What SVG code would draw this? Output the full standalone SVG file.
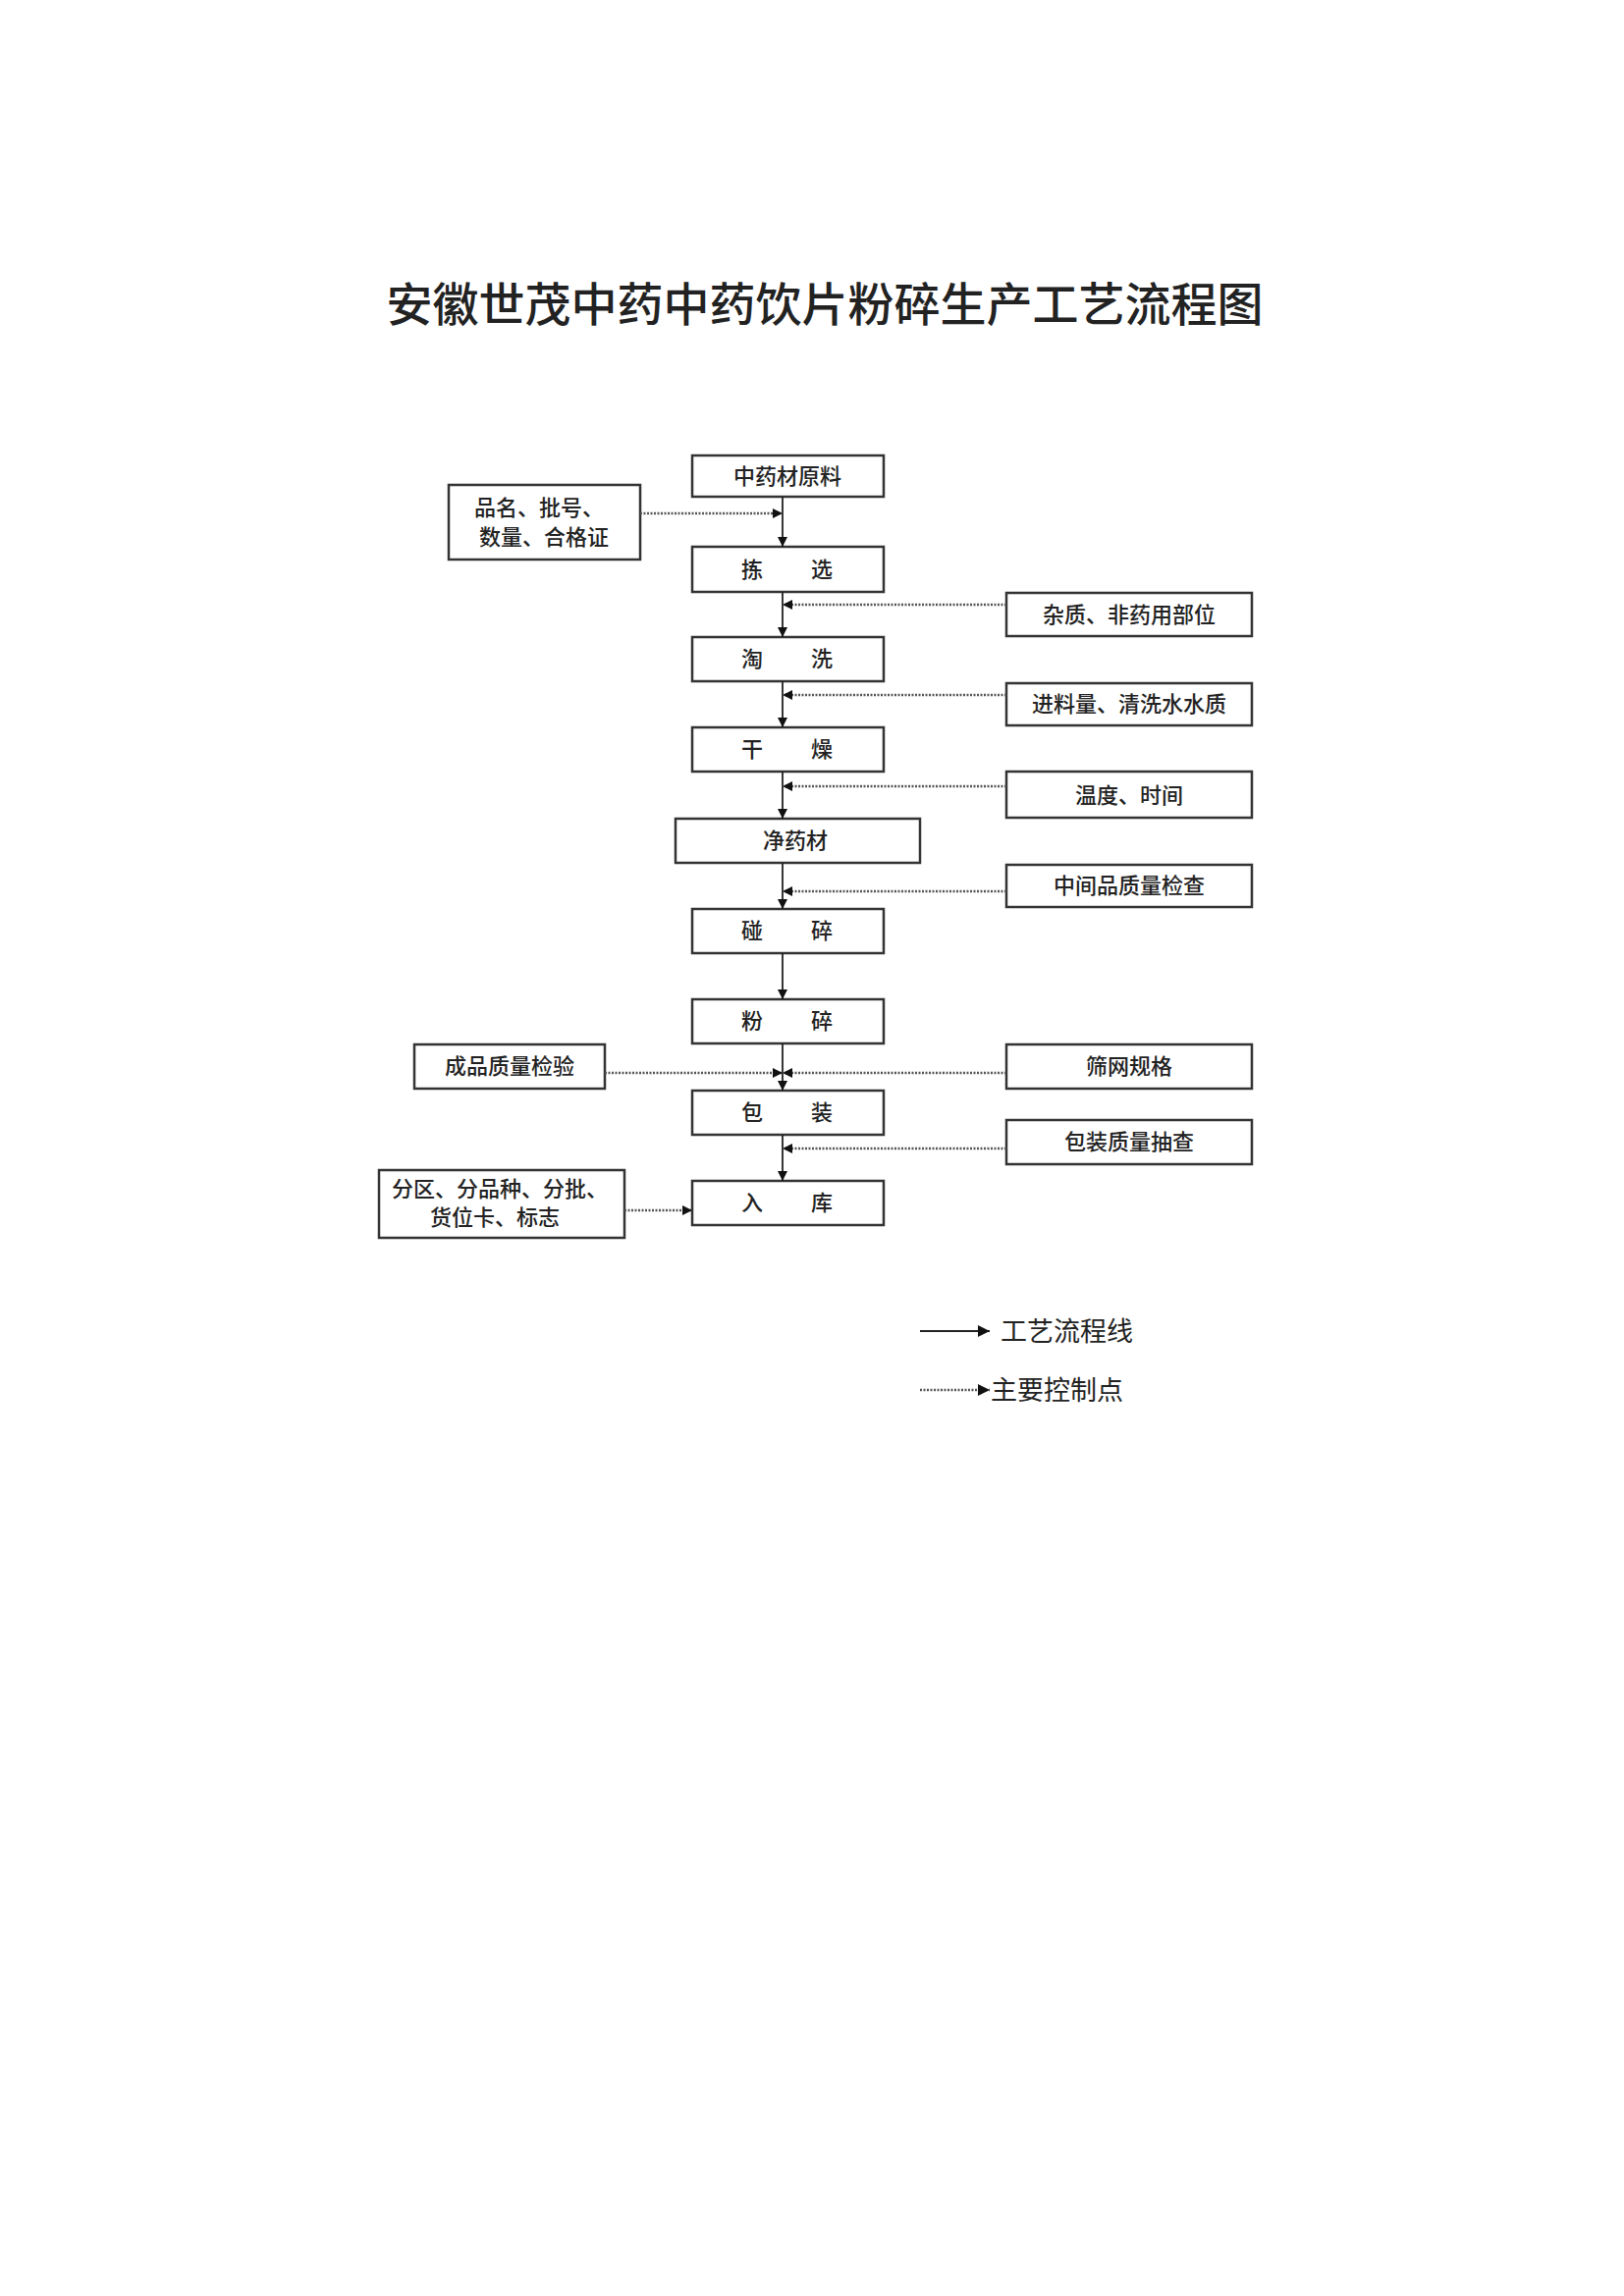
<svg xmlns="http://www.w3.org/2000/svg" width="1654" height="2339" viewBox="0 0 1654 2339">
<style>
.b{fill:#fff;stroke:#333;stroke-width:2.5}
.t{font-family:"Noto Sans CJK SC",sans-serif;font-size:22px;fill:#222;text-anchor:middle;font-weight:500}
.s{stroke:#222;stroke-width:1.8;fill:none}
.d{stroke:#555;stroke-width:2.5;stroke-dasharray:2 1.5;fill:none}
.l{font-family:"Noto Sans CJK SC",sans-serif;font-size:27px;fill:#222}
</style>
<defs>
<marker id="a" viewBox="0 0 10 10" refX="10" refY="5" markerWidth="10" markerHeight="10" markerUnits="userSpaceOnUse" orient="auto"><path d="M0,0L10,5L0,10z" fill="#111"/></marker>
<marker id="a2" viewBox="0 0 10 10" refX="10" refY="5" markerWidth="12" markerHeight="12" markerUnits="userSpaceOnUse" orient="auto"><path d="M0,0L10,5L0,10z" fill="#111"/></marker>
</defs>
<rect width="1654" height="2339" fill="#fff"/>
<g transform="translate(-5,-5)">
<text x="845" y="332" style="font-family:'Noto Sans CJK SC',sans-serif;font-size:47px;fill:#222;text-anchor:middle;font-weight:500">安徽世茂中药中药饮片粉碎生产工艺流程图</text>
<g id="n1"><rect class="b" x="710" y="469" width="195" height="42"/><text class="t" x="807" y="498">中药材原料</text></g>
<g id="n2"><rect class="b" x="710" y="562" width="195" height="46"/><text class="t" x="771" y="593">拣</text><text class="t" x="842" y="593">选</text></g>
<g id="n3"><rect class="b" x="710" y="654" width="195" height="45"/><text class="t" x="771" y="684">淘</text><text class="t" x="842" y="684">洗</text></g>
<g id="n4"><rect class="b" x="710" y="746" width="195" height="45"/><text class="t" x="771" y="776">干</text><text class="t" x="842" y="776">燥</text></g>
<g id="n5"><rect class="b" x="693" y="839" width="249" height="45"/><text class="t" x="815" y="869">净药材</text></g>
<g id="n6"><rect class="b" x="710" y="931" width="195" height="45"/><text class="t" x="771" y="961">碰</text><text class="t" x="842" y="961">碎</text></g>
<g id="n7"><rect class="b" x="710" y="1023" width="195" height="45"/><text class="t" x="771" y="1053">粉</text><text class="t" x="842" y="1053">碎</text></g>
<g id="n8"><rect class="b" x="710" y="1116" width="195" height="45"/><text class="t" x="771" y="1146">包</text><text class="t" x="842" y="1146">装</text></g>
<g id="n9"><rect class="b" x="710" y="1208" width="195" height="45"/><text class="t" x="771" y="1238">入</text><text class="t" x="842" y="1238">库</text></g>
<g id="c1"><rect class="b" x="462" y="499" width="195" height="76"/><text class="t" x="554" y="530">品名、批号、</text><text class="t" x="559" y="560">数量、合格证</text></g>
<g id="c2"><rect class="b" x="1030" y="609" width="250" height="44"/><text class="t" x="1155" y="639">杂质、非药用部位</text></g>
<g id="c3"><rect class="b" x="1030" y="701" width="250" height="43"/><text class="t" x="1155" y="730">进料量、清洗水水质</text></g>
<g id="c4"><rect class="b" x="1030" y="791" width="250" height="47"/><text class="t" x="1155" y="823">温度、时间</text></g>
<g id="c5"><rect class="b" x="1030" y="886" width="250" height="43"/><text class="t" x="1155" y="915">中间品质量检查</text></g>
<g id="c6"><rect class="b" x="427" y="1069" width="194" height="45"/><text class="t" x="524" y="1099">成品质量检验</text></g>
<g id="c7"><rect class="b" x="1030" y="1069" width="250" height="45"/><text class="t" x="1155" y="1099">筛网规格</text></g>
<g id="c8"><rect class="b" x="1030" y="1146" width="250" height="45"/><text class="t" x="1155" y="1176">包装质量抽查</text></g>
<g id="c9"><rect class="b" x="391" y="1197" width="250" height="69"/><text class="t" x="514" y="1224">分区、分品种、分批、</text><text class="t" x="509" y="1253">货位卡、标志</text></g>
<g id="connectors">
<path class="s" d="M802,511V562" marker-end="url(#a)"/>
<path class="s" d="M802,608V654" marker-end="url(#a)"/>
<path class="s" d="M802,699V746" marker-end="url(#a)"/>
<path class="s" d="M802,791V839" marker-end="url(#a)"/>
<path class="s" d="M802,884V931" marker-end="url(#a)"/>
<path class="s" d="M802,976V1023" marker-end="url(#a)"/>
<path class="s" d="M802,1068V1116" marker-end="url(#a)"/>
<path class="s" d="M802,1161V1208" marker-end="url(#a)"/>
<path class="d" d="M657,528H802" marker-end="url(#a)"/>
<path class="d" d="M1030,621H802" marker-end="url(#a)"/>
<path class="d" d="M1030,713H802" marker-end="url(#a)"/>
<path class="d" d="M1030,806H802" marker-end="url(#a)"/>
<path class="d" d="M1030,913H802" marker-end="url(#a)"/>
<path class="d" d="M621,1098H802" marker-end="url(#a)"/>
<path class="d" d="M1030,1098H802" marker-end="url(#a)"/>
<path class="d" d="M1030,1175H802" marker-end="url(#a)"/>
<path class="d" d="M641,1238H710" marker-end="url(#a)"/>
</g>
<g id="legend">
<path class="s" d="M942,1361H1013" marker-end="url(#a2)"/>
<text class="l" x="1024" y="1371">工艺流程线</text>
<path class="d" d="M942,1421H1013" marker-end="url(#a2)"/>
<text class="l" x="1014" y="1431">主要控制点</text>
</g>
</g>
</svg>
